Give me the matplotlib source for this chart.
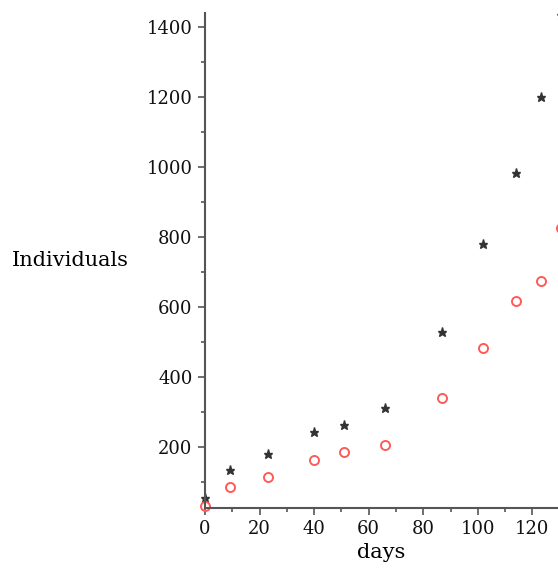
import matplotlib
matplotlib.use("Agg")
import matplotlib.pyplot as plt
from matplotlib.ticker import MultipleLocator

# values
days = [0, 9, 23, 40, 51, 66, 87, 102, 114, 123, 130.4]
stars = [55, 134, 180, 242, 263, 311, 529, 780, 983, 1200, 1434]
circles = [32, 86, 114, 163, 186, 206, 340, 483, 617, 674, 826]

plt.rcParams['font.family'] = ['DejaVu Serif']
plt.rcParams['font.size'] = 13

fig = plt.figure(figsize=(5.58, 5.68), dpi=100)
ax = fig.add_axes([205/558, 1 - 508/568, 1 - 205/558, (508 - 13)/568])

ax.plot(days, stars, linestyle='none', marker='*', markersize=6.5,
        color='#333333', clip_on=False)
ax.plot(days, circles, linestyle='none', marker='o', markersize=6.5,
        markerfacecolor='none', markeredgecolor='#ff5a5a', markeredgewidth=1.4,
        clip_on=False)

ax.set_xlim(0, 129.4)
ax.set_ylim(25.7, 1440)

for s in ['top', 'right']:
    ax.spines[s].set_visible(False)
for s in ['left', 'bottom']:
    ax.spines[s].set_color('#555555')
    ax.spines[s].set_linewidth(1.5)

ax.xaxis.set_major_locator(MultipleLocator(20))
ax.xaxis.set_minor_locator(MultipleLocator(10))
ax.yaxis.set_major_locator(MultipleLocator(200))
ax.yaxis.set_minor_locator(MultipleLocator(100))
ax.tick_params(which='major', length=5, width=1.2, color='#555555', pad=4,
               labelcolor='#111111')
ax.tick_params(which='minor', length=3, width=1.2, color='#555555')

ax.set_xlabel('days', fontsize=15, labelpad=3)
fig.text(12/558, 1 - 260/568, 'Individuals', ha='left', va='center', fontsize=15)

fig.savefig('out.png', dpi=100)
